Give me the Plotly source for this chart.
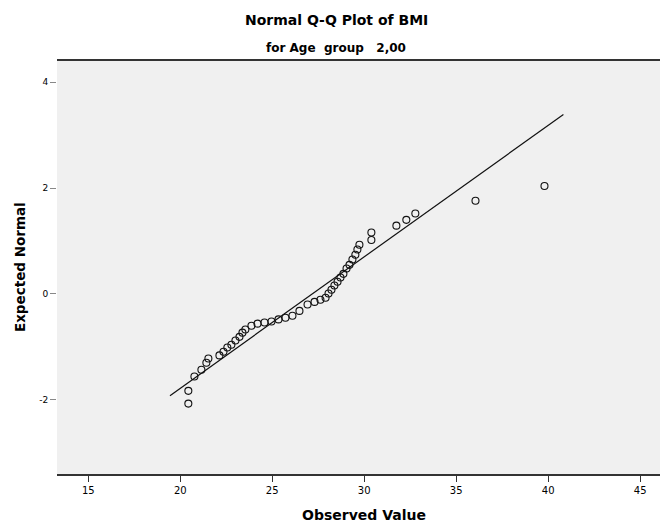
import plotly.graph_objects as go

observed = [20.44, 20.44, 20.77, 21.15, 21.42, 21.53, 22.13, 22.35, 22.56, 22.78,
            23.00, 23.22, 23.38, 23.54, 23.87, 24.20, 24.58, 24.96, 25.34, 25.72,
            26.10, 26.48, 26.92, 27.30, 27.62, 27.90, 28.06, 28.22, 28.38, 28.55,
            28.71, 28.87, 29.04, 29.20, 29.36, 29.52, 29.63, 29.74, 30.39, 30.39,
            31.75, 32.29, 32.78, 36.05, 39.80]
expected = [-2.07, -1.83, -1.56, -1.43, -1.30, -1.22, -1.16, -1.09, -1.01, -0.96,
            -0.88, -0.81, -0.73, -0.67, -0.60, -0.56, -0.54, -0.52, -0.48, -0.45,
            -0.41, -0.32, -0.20, -0.15, -0.11, -0.07, 0.01, 0.08, 0.16, 0.23,
            0.31, 0.38, 0.48, 0.55, 0.65, 0.74, 0.84, 0.93, 1.02, 1.16,
            1.29, 1.40, 1.52, 1.76, 2.04]

# Reference line endpoints
line_x = [19.44, 40.83]
line_y = [-1.92, 3.39]

x_ticks = [15, 20, 25, 30, 35, 40, 45]
y_ticks = [-2, 0, 2, 4]

title_text = "Normal Q-Q Plot of BMI"
subtitle_text = "for Age  group   2,00"
x_title = "Observed Value"
y_title = "Expected Normal"

fig = go.Figure()
fig.add_trace(go.Scatter(
    x=line_x, y=line_y, mode="lines",
    line=dict(color="#111111", width=1.2),
    hoverinfo="skip", showlegend=False))
fig.add_trace(go.Scatter(
    x=observed, y=expected, mode="markers",
    marker=dict(symbol="circle-open", size=7, color="#111111", line=dict(width=1.1)),
    showlegend=False))

font_family = "DejaVu Sans, Verdana, sans-serif"

fig.update_layout(
    width=660, height=531,
    margin=dict(l=57, r=0, t=61, b=57),
    paper_bgcolor="white",
    plot_bgcolor="#f0f0f0",
    font=dict(family=font_family, color="black", size=10),
    xaxis=dict(
        range=[13.30, 46.08],
        tickvals=x_ticks, ticktext=[str(v) for v in x_ticks],
        showgrid=False, zeroline=False,
        showline=True, linecolor="#333333", linewidth=2, mirror=True,
        ticks="outside", ticklen=6, tickcolor="#333333", tickwidth=1,
        tickfont=dict(size=10, family=font_family, color="black"),
    ),
    yaxis=dict(
        range=[-3.40, 4.40],
        tickvals=y_ticks, ticktext=[str(v) for v in y_ticks],
        showgrid=False, zeroline=False, showline=False,
        ticks="outside", ticklen=6, tickcolor="#888888", tickwidth=1,
        tickfont=dict(size=9, family=font_family, color="black"),
    ),
    annotations=[
        dict(text="<b>" + title_text + "</b>", xref="paper", yref="paper",
             x=0.4627, y=1.099, xanchor="center", yanchor="middle",
             showarrow=False, font=dict(size=14, family=font_family)),
        dict(text="<b>" + subtitle_text + "</b>", xref="paper", yref="paper",
             x=0.4627, y=1.031, xanchor="center", yanchor="middle",
             showarrow=False, font=dict(size=12, family=font_family)),
        dict(text="<b>" + x_title + "</b>", xref="paper", yref="paper",
             x=0.509, y=-0.0993, xanchor="center", yanchor="middle",
             showarrow=False, font=dict(size=14, family=font_family)),
        dict(text="<b>" + y_title + "</b>", xref="paper", yref="paper",
             x=-0.0614, y=0.501, xanchor="center", yanchor="middle",
             textangle=-90, showarrow=False, font=dict(size=13.5, family=font_family)),
    ],
)

fig.write_html("out.html")
